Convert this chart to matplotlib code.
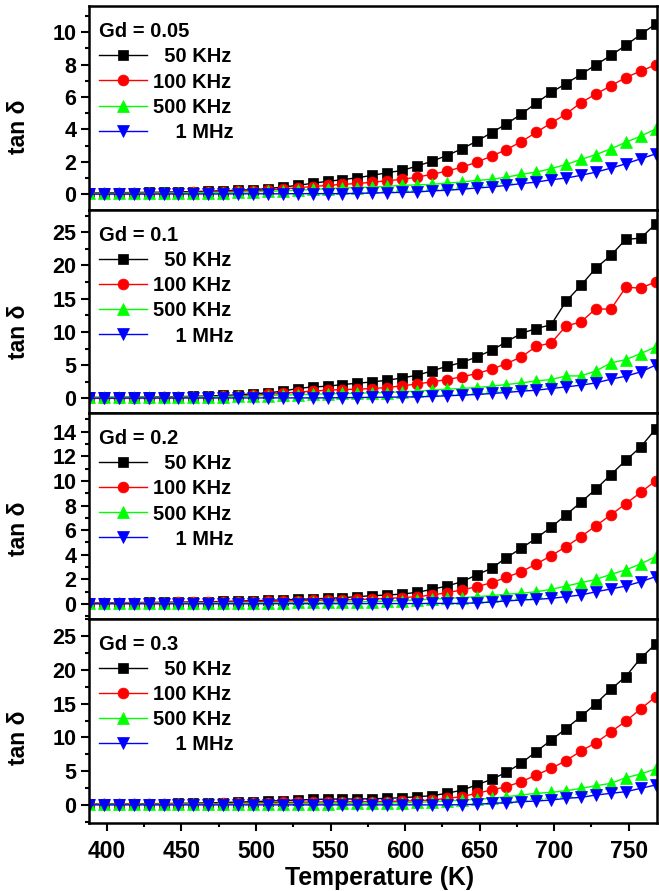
import matplotlib
matplotlib.use("Agg")
import matplotlib.pyplot as plt
from matplotlib.ticker import MultipleLocator

plt.rcParams['font.family'] = ['Liberation Sans', 'DejaVu Sans']
plt.rcParams['font.weight'] = 'bold'

temperature = [388, 398, 408, 418, 428, 438, 448, 458, 468, 478,
               488, 498, 508, 518, 528, 538, 548, 558, 568, 578,
               588, 598, 608, 618, 628, 638, 648, 658, 668, 678,
               688, 698, 708, 718, 728, 738, 748, 758, 768]

freq_labels = ["  50 KHz", "100 KHz", "500 KHz", "    1 MHz"]
gd_labels = ["Gd = 0.05", "Gd = 0.1", "Gd = 0.2", "Gd = 0.3"]

# Gd = 0.05
gd005_50k = [0.08, 0.09, 0.10, 0.11, 0.12, 0.13, 0.15, 0.17, 0.19, 0.22,
             0.25, 0.29, 0.35, 0.45, 0.55, 0.68, 0.80, 0.90, 1.02, 1.17,
             1.33, 1.47, 1.74, 2.04, 2.39, 2.80, 3.27, 3.80, 4.34, 4.95,
             5.63, 6.28, 6.83, 7.40, 7.98, 8.57, 9.18, 9.86, 10.5]
gd005_100k = [0.05, 0.06, 0.07, 0.08, 0.09, 0.10, 0.11, 0.12, 0.14, 0.16,
              0.19, 0.22, 0.27, 0.33, 0.40, 0.48, 0.55, 0.61, 0.67, 0.74,
              0.84, 0.92, 1.06, 1.23, 1.43, 1.67, 1.98, 2.35, 2.76, 3.25,
              3.82, 4.40, 4.95, 5.66, 6.18, 6.69, 7.20, 7.60, 7.98]
gd005_500k = [0.05, 0.05, 0.05, 0.06, 0.06, 0.07, 0.08, 0.09, 0.10, 0.11,
              0.13, 0.15, 0.18, 0.21, 0.25, 0.30, 0.35, 0.39, 0.41, 0.45,
              0.49, 0.55, 0.58, 0.61, 0.69, 0.75, 0.86, 0.92, 1.06, 1.23,
              1.37, 1.58, 1.84, 2.15, 2.45, 2.80, 3.21, 3.58, 4.03]
gd005_1m = [0.01, 0.01, 0.01, 0.01, 0.01, 0.02, 0.02, 0.02, 0.02, 0.02,
            0.03, 0.03, 0.03, 0.03, 0.04, 0.04, 0.04, 0.04, 0.06, 0.08,
            0.10, 0.12, 0.14, 0.21, 0.25, 0.31, 0.39, 0.45, 0.55, 0.66,
            0.75, 0.90, 1.00, 1.17, 1.37, 1.61, 1.88, 2.19, 2.49]

# Gd = 0.1
gd01_50k = [0.16, 0.17, 0.18, 0.20, 0.22, 0.25, 0.28, 0.32, 0.38, 0.45,
            0.55, 0.70, 0.84, 1.10, 1.50, 1.74, 1.84, 2.10, 2.29, 2.49,
            2.74, 3.09, 3.49, 4.14, 4.84, 5.40, 6.24, 7.24, 8.50, 9.80,
            10.5, 11.1, 14.6, 17.0, 19.6, 21.5, 23.9, 24.1, 26.2]
gd01_100k = [0.10, 0.10, 0.11, 0.12, 0.13, 0.15, 0.17, 0.20, 0.24, 0.30,
             0.38, 0.48, 0.60, 0.78, 0.95, 1.10, 1.24, 1.35, 1.40, 1.50,
             1.65, 1.89, 2.19, 2.49, 2.85, 3.24, 3.75, 4.39, 5.25, 6.24,
             7.84, 8.34, 10.9, 11.5, 13.5, 13.4, 16.7, 16.6, 17.5]
gd01_500k = [0.15, 0.15, 0.16, 0.17, 0.18, 0.19, 0.20, 0.22, 0.25, 0.28,
             0.32, 0.37, 0.43, 0.50, 0.57, 0.64, 0.70, 0.75, 0.80, 0.85,
             0.90, 1.00, 1.10, 1.24, 1.40, 1.50, 1.65, 1.84, 2.10, 2.34,
             2.64, 2.85, 3.39, 3.39, 4.14, 5.34, 5.84, 6.74, 7.74]
gd01_1m = [0.05, 0.05, 0.05, 0.06, 0.06, 0.06, 0.07, 0.07, 0.07, 0.08,
           0.08, 0.08, 0.09, 0.09, 0.09, 0.09, 0.10, 0.12, 0.14, 0.17,
           0.20, 0.22, 0.25, 0.32, 0.40, 0.50, 0.60, 0.75, 0.90, 1.10,
           1.24, 1.50, 1.74, 2.00, 2.34, 2.90, 3.34, 4.00, 5.00]

# Gd = 0.2
gd02_50k = [0.10, 0.10, 0.11, 0.12, 0.13, 0.14, 0.15, 0.17, 0.19, 0.21,
            0.24, 0.27, 0.30, 0.34, 0.38, 0.42, 0.46, 0.52, 0.60, 0.68,
            0.73, 0.81, 0.95, 1.19, 1.46, 1.81, 2.36, 2.90, 3.77, 4.53,
            5.35, 6.24, 7.24, 8.27, 9.33, 10.5, 11.66, 12.75, 14.2]
gd02_100k = [0.08, 0.08, 0.09, 0.10, 0.11, 0.12, 0.13, 0.14, 0.15, 0.17,
             0.18, 0.20, 0.22, 0.24, 0.27, 0.30, 0.33, 0.33, 0.38, 0.40,
             0.46, 0.52, 0.60, 0.73, 0.92, 1.14, 1.41, 1.73, 2.17, 2.63,
             3.25, 3.93, 4.66, 5.48, 6.35, 7.24, 8.14, 9.06, 10.0]
gd02_500k = [0.05, 0.05, 0.05, 0.06, 0.06, 0.07, 0.07, 0.08, 0.08, 0.09,
             0.09, 0.10, 0.11, 0.12, 0.13, 0.14, 0.15, 0.16, 0.18, 0.20,
             0.24, 0.28, 0.33, 0.40, 0.46, 0.52, 0.60, 0.68, 0.80, 0.87,
             1.00, 1.19, 1.46, 1.73, 2.00, 2.41, 2.77, 3.25, 3.85]
gd02_1m = [0.02, 0.02, 0.02, 0.02, 0.02, 0.02, 0.02, 0.02, 0.02, 0.02,
           0.02, 0.02, 0.03, 0.03, 0.03, 0.03, 0.03, 0.03, 0.03, 0.04,
           0.04, 0.04, 0.04, 0.05, 0.05, 0.05, 0.10, 0.16, 0.25, 0.33,
           0.38, 0.46, 0.60, 0.73, 1.00, 1.22, 1.46, 1.81, 2.22]

# Gd = 0.3
gd03_50k = [0.15, 0.16, 0.17, 0.18, 0.20, 0.22, 0.25, 0.28, 0.32, 0.37,
            0.43, 0.50, 0.58, 0.66, 0.74, 0.82, 0.88, 0.89, 0.90, 0.92,
            0.99, 1.08, 1.23, 1.38, 1.73, 2.20, 2.96, 3.80, 4.84, 6.20,
            7.90, 9.60, 11.3, 13.1, 15.0, 17.1, 19.0, 21.7, 23.8]
gd03_100k = [0.10, 0.10, 0.11, 0.12, 0.13, 0.14, 0.16, 0.18, 0.20, 0.23,
             0.26, 0.30, 0.34, 0.38, 0.42, 0.45, 0.47, 0.48, 0.49, 0.50,
             0.52, 0.59, 0.64, 0.74, 0.99, 1.23, 1.73, 2.22, 2.71, 3.45,
             4.44, 5.42, 6.56, 8.00, 9.20, 10.8, 12.4, 14.2, 16.0]
gd03_500k = [0.10, 0.10, 0.10, 0.11, 0.11, 0.12, 0.12, 0.13, 0.14, 0.15,
             0.16, 0.17, 0.18, 0.19, 0.20, 0.21, 0.22, 0.24, 0.26, 0.28,
             0.30, 0.35, 0.40, 0.49, 0.59, 0.74, 0.84, 0.99, 1.23, 1.48,
             1.73, 1.87, 2.12, 2.46, 2.86, 3.20, 4.04, 4.59, 5.33]
gd03_1m = [0.02, 0.02, 0.02, 0.02, 0.02, 0.02, 0.02, 0.02, 0.02, 0.02,
           0.02, 0.02, 0.02, 0.02, 0.02, 0.02, 0.02, 0.02, 0.02, 0.02,
           0.02, 0.02, 0.02, 0.02, 0.02, 0.05, 0.10, 0.25, 0.34, 0.49,
           0.59, 0.74, 0.99, 1.13, 1.48, 1.73, 1.97, 2.46, 2.96]

panels = [
    [gd005_50k, gd005_100k, gd005_500k, gd005_1m],
    [gd01_50k, gd01_100k, gd01_500k, gd01_1m],
    [gd02_50k, gd02_100k, gd02_500k, gd02_1m],
    [gd03_50k, gd03_100k, gd03_500k, gd03_1m],
]

ylims = [(-0.98, 11.6), (-2.2, 28.3), (-1.22, 15.5), (-2.66, 27.5)]
ymajor = [2, 5, 2, 5]
yminor = [1, 2.5, 1, 2.5]
ylabel_y = [0.41, 0.40, 0.44, 0.42]

colors = ['#000000', '#FF0000', '#00FF00', '#0000FF']
markers = ['s', 'o', '^', 'v']
msizes = [6.8, 7.8, 8.3, 8.3]

fig = plt.figure(figsize=(6.59, 8.91), dpi=100)
gs = fig.add_gridspec(4, 1, height_ratios=[204, 203, 206, 204], hspace=0,
                      left=0.135, right=0.997, top=0.993, bottom=0.0763)
axes = [fig.add_subplot(gs[i]) for i in range(4)]

for i, ax in enumerate(axes):
    for j, series in enumerate(panels[i]):
        ax.plot(temperature, series, color=colors[j], marker=markers[j],
                markersize=msizes[j], linewidth=1.0, label=freq_labels[j],
                markeredgewidth=0.5, markeredgecolor=colors[j])
    ax.set_xlim(388, 769)
    ax.set_ylim(*ylims[i])
    ax.xaxis.set_major_locator(MultipleLocator(50))
    ax.xaxis.set_minor_locator(MultipleLocator(25))
    ax.yaxis.set_major_locator(MultipleLocator(ymajor[i]))
    ax.yaxis.set_minor_locator(MultipleLocator(yminor[i]))
    ax.tick_params(which='both', direction='out', top=False, right=False,
                   width=1.5, labelsize=15.5, pad=3)
    ax.tick_params(which='major', length=6)
    ax.tick_params(which='minor', length=3)
    for sp in ax.spines.values():
        sp.set_linewidth(1.8)
    ax.set_ylabel('tan δ', fontsize=16.5, fontweight='bold')
    ax.yaxis.set_label_coords(-0.104, ylabel_y[i])
    for lab in ax.get_yticklabels():
        lab.set_fontweight('bold')
    if i < 3:
        ax.tick_params(labelbottom=False)
    else:
        ax.set_xlabel('Temperature (K)', fontsize=17.8, fontweight='bold')
        ax.xaxis.set_label_coords(0.512, -0.27)
        ax.xaxis.label.set_va('center')
        ax.tick_params(axis='x', pad=6, labelsize=16.5)
        for lab in ax.get_xticklabels():
            lab.set_fontweight('bold')
    leg = ax.legend(loc='upper left', bbox_to_anchor=(0.0, 0.97),
                    title=gd_labels[i], alignment='left',
                    frameon=False, fontsize=14.5, title_fontsize=14.5,
                    handlelength=2.4, handletextpad=0.3, labelspacing=0.3,
                    borderaxespad=0.3, borderpad=0.2)
    leg.get_title().set_fontweight('bold')
    for t in leg.get_texts():
        t.set_fontweight('bold')

fig.savefig('out.png', dpi=100)
